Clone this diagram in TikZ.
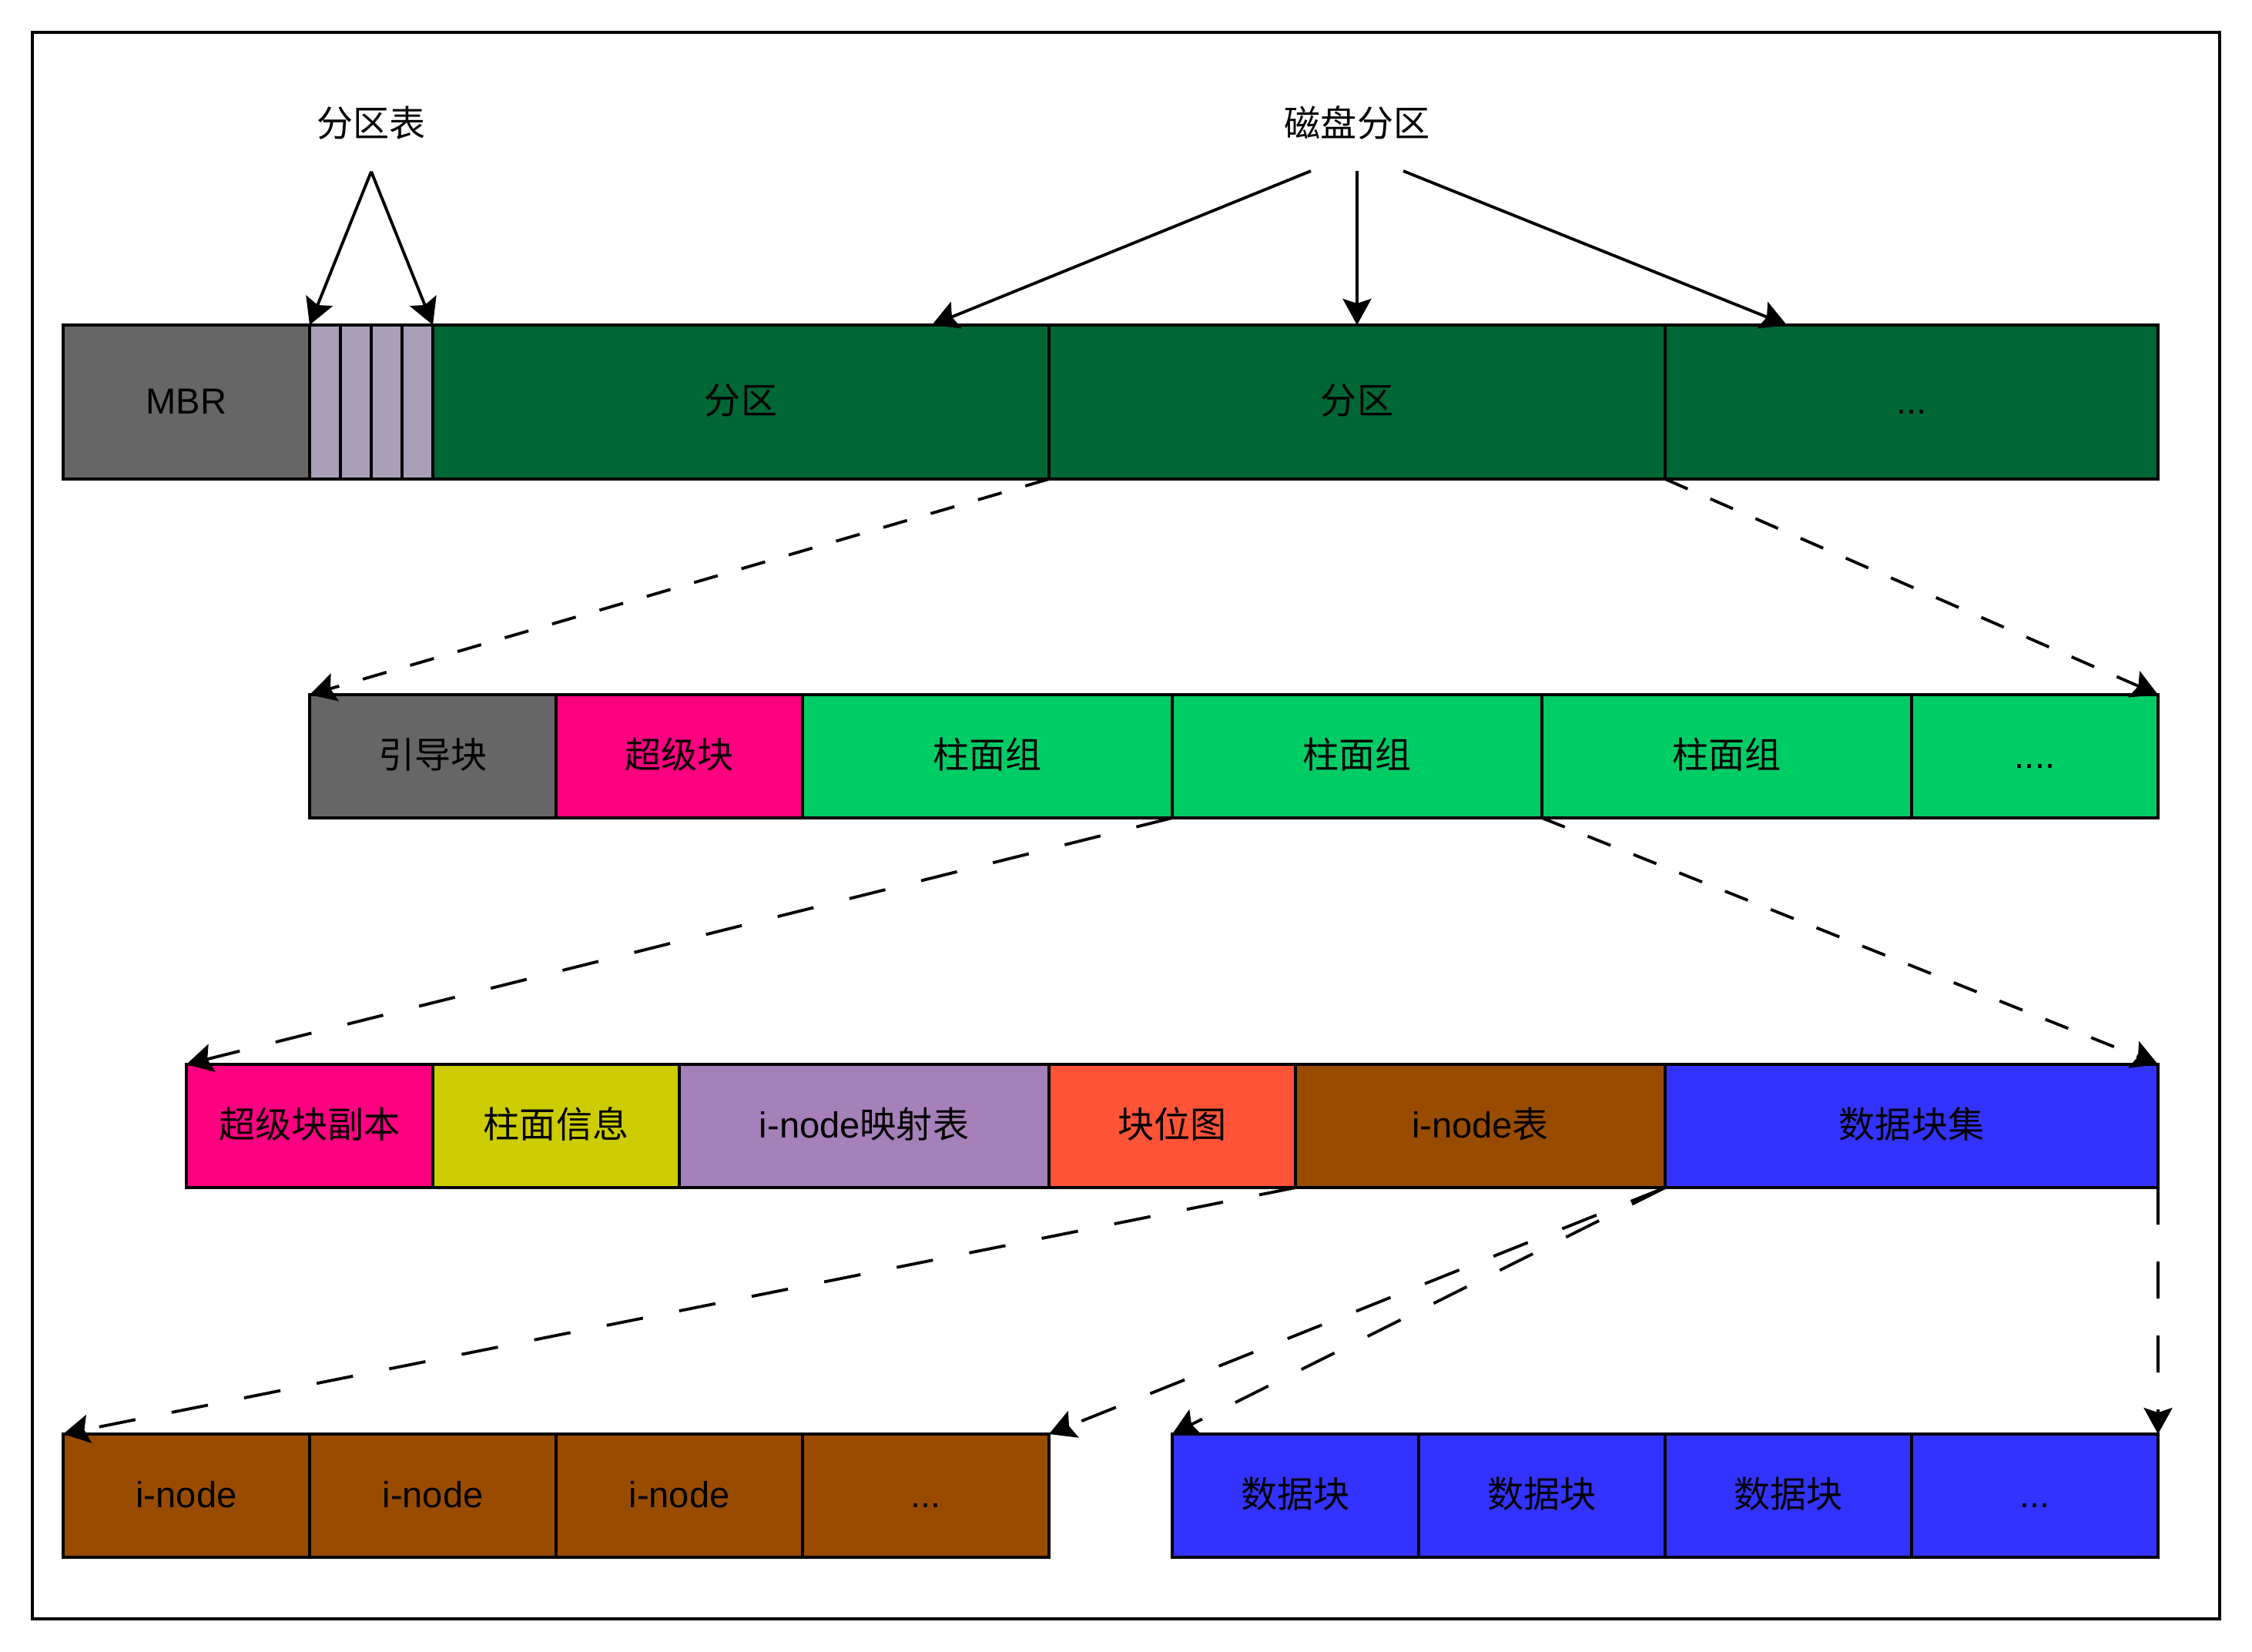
\documentclass[tikz,border=0pt]{standalone}
\usepackage{fontspec}
\setmainfont{Liberation Sans}
\newfontfamily\cjk{Noto Sans CJK SC}
\usetikzlibrary{arrows.meta,positioning}
\definecolor{MbrGray}{HTML}{666666}
\definecolor{TableLilac}{HTML}{AA9FB9}
\definecolor{PartGreen}{HTML}{006633}
\definecolor{SuperPink}{HTML}{FF0080}
\definecolor{GroupGreen}{HTML}{00CC66}
\definecolor{InfoYellow}{HTML}{CCCC00}
\definecolor{MapPurple}{HTML}{A680B8}
\definecolor{BitmapRed}{HTML}{FF5337}
\definecolor{InodeBrown}{HTML}{994C00}
\definecolor{DataBlue}{HTML}{3333FF}
\newcommand{\zh}[1]{{\cjk #1}}

\begin{document}
\begin{tikzpicture}[
node distance=0pt,
cell/.style={draw,line width=1.1pt,outer sep=0pt,inner sep=0pt,minimum height=1.6cm,
  text height=0.4cm,text depth=0.1cm,font=\fontsize{13.4}{16}\selectfont},
tall/.style={cell,minimum height=2cm},
lbl/.style={inner sep=0pt,minimum height=1.24cm,font=\fontsize{13.4}{16}\selectfont},
arr/.style={-{Stealth[length=3.4mm,width=3.7mm,inset=0.6mm]},line width=1.1pt},
dsh/.style={arr,dash pattern=on 3.2mm off 3.2mm},
dshl/.style={arr,dash pattern=on 4.8mm off 4.8mm}
]
\useasboundingbox (0,0) rectangle (29.24,-21.44);
\node[draw,line width=1.1pt,outer sep=0pt,minimum width=28.4cm,minimum height=20.6cm] (frame) at (14.62,-10.72) {};

% disk layout
\node[tall,fill=MbrGray,minimum width=3.2cm,anchor=north west] (mbr) at (0.82,-4.22) {MBR};
\node[tall,fill=TableLilac,minimum width=0.4cm,right=of mbr] (t1) {};
\node[tall,fill=TableLilac,minimum width=0.4cm,right=of t1] (t2) {};
\node[tall,fill=TableLilac,minimum width=0.4cm,right=of t2] (t3) {};
\node[tall,fill=TableLilac,minimum width=0.4cm,right=of t3] (t4) {};
\node[tall,fill=PartGreen,minimum width=8cm,right=of t4] (p1) {\zh{分区}};
\node[tall,fill=PartGreen,minimum width=8cm,right=of p1] (p2) {\zh{分区}};
\node[tall,fill=PartGreen,minimum width=6.4cm,right=of p2] (p3) {...};

\node[lbl] (tbl) at (4.82,-1.6) {\zh{分区表}};
\node[lbl,above=2cm of p2] (disk) {\zh{磁盘分区}};

% partition
\node[cell,fill=MbrGray,minimum width=3.2cm,anchor=north west] (boot) at (4.02,-9.02) {\zh{引导块}};
\node[cell,fill=SuperPink,minimum width=3.2cm,right=of boot] (sb) {\zh{超级块}};
\node[cell,fill=GroupGreen,minimum width=4.8cm,right=of sb] (cg1) {\zh{柱面组}};
\node[cell,fill=GroupGreen,minimum width=4.8cm,right=of cg1] (cg2) {\zh{柱面组}};
\node[cell,fill=GroupGreen,minimum width=4.8cm,right=of cg2] (cg3) {\zh{柱面组}};
\node[cell,fill=GroupGreen,minimum width=3.2cm,right=of cg3] (cgmore) {....};

% cylinder group
\node[cell,fill=SuperPink,minimum width=3.2cm,anchor=north west] (sbc) at (2.42,-13.82) {\zh{超级块副本}};
\node[cell,fill=InfoYellow,minimum width=3.2cm,right=of sbc] (cinfo) {\zh{柱面信息}};
\node[cell,fill=MapPurple,minimum width=4.8cm,right=of cinfo] (imap) {i-node\zh{映射表}};
\node[cell,fill=BitmapRed,minimum width=3.2cm,right=of imap] (bmap) {\zh{块位图}};
\node[cell,fill=InodeBrown,minimum width=4.8cm,right=of bmap] (itab) {i-node\zh{表}};
\node[cell,fill=DataBlue,minimum width=6.4cm,right=of itab] (dset) {\zh{数据块集}};

% i-nodes and data blocks
\node[cell,fill=InodeBrown,minimum width=3.2cm,anchor=north west] (in1) at (0.82,-18.62) {i-node};
\node[cell,fill=InodeBrown,minimum width=3.2cm,right=of in1] (in2) {i-node};
\node[cell,fill=InodeBrown,minimum width=3.2cm,right=of in2] (in3) {i-node};
\node[cell,fill=InodeBrown,minimum width=3.2cm,right=of in3] (inmore) {...};
\node[cell,fill=DataBlue,minimum width=3.2cm,anchor=north west] (d1) at (15.22,-18.62) {\zh{数据块}};
\node[cell,fill=DataBlue,minimum width=3.2cm,right=of d1] (d2) {\zh{数据块}};
\node[cell,fill=DataBlue,minimum width=3.2cm,right=of d2] (d3) {\zh{数据块}};
\node[cell,fill=DataBlue,minimum width=3.2cm,right=of d3] (dmore) {...};

\draw[arr] (tbl.south) -- (t1.north west);
\draw[arr] (tbl.south) -- (t4.north east);
\draw[arr] ([xshift=-0.6cm]disk.south) -- ([xshift=2.48cm]p1.north);
\draw[arr] (disk.south) -- (p2.north);
\draw[arr] ([xshift=0.6cm]disk.south) -- ([xshift=-1.62cm]p3.north);

\draw[dsh] (p1.south east) -- (boot.north west);
\draw[dsh] (p2.south east) -- (cgmore.north east);
\draw[dshl] (cg1.south east) -- (sbc.north west);
\draw[dsh] (cg2.south east) -- (dset.north east);
\draw[dshl] (itab.south west) -- (in1.north west);
\draw[dshl] (itab.south east) -- (inmore.north east);
\draw[dshl] (dset.south west) -- (d1.north west);
\draw[dshl] (dset.south east) -- (dmore.north east);
\end{tikzpicture}
\end{document}
